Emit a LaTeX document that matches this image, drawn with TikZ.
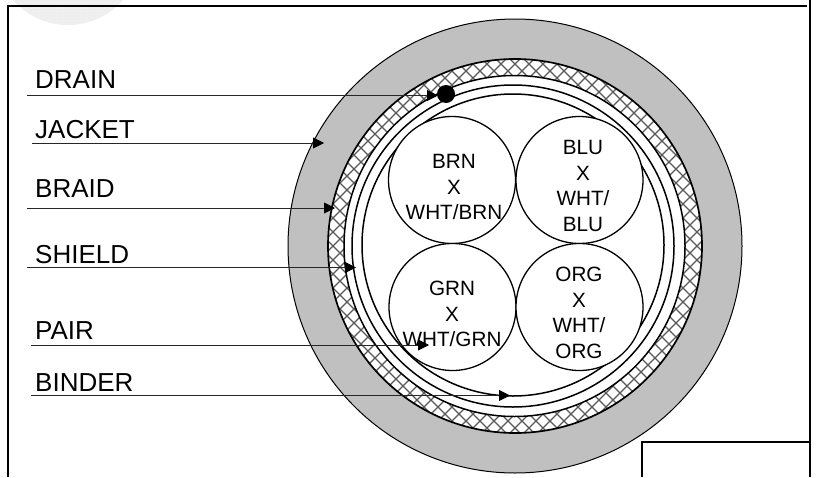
\documentclass[tikz,border=0pt]{standalone}
\usepackage{fontspec}
\setmainfont{Liberation Sans}
\usetikzlibrary{arrows.meta,patterns}
\definecolor{jacketgrey}{RGB}{192,192,192}
\definecolor{faintgrey}{RGB}{238,238,238}
\tikzset{
  x=1pt,y=-1pt,
  framepen/.style={line width=2pt,black},
  ring/.style={draw=black,line width=1.5pt},
  pairwire/.style={circle,draw=black,fill=white,line width=1.3pt,minimum size=127pt,inner sep=0pt},
  bigtext/.style={font=\fontsize{26}{26}\selectfont,anchor=base west,inner sep=0pt},
  pairtext/.style={font=\fontsize{20.7}{25.5}\selectfont,align=center,inner sep=0pt},
  leader/.style={draw=black!85,line width=0.9pt,-{Triangle[length=11pt,width=11pt,color=black]}},
  hatch/.style={draw=black!65,line width=1.1pt},
}
\begin{document}
\begin{tikzpicture}
\useasboundingbox (0,0) rectangle (816,477);
\fill[white] (0,0) rectangle (816,477);
% faint watermark disc at the top left
\begin{scope}
\clip (0,0) rectangle (816,477);
\fill[faintgrey] (68,-48) circle[radius=73];
\fill[pattern=dots,pattern color=white] (68,-48) circle[radius=73];
\end{scope}
% frame
\draw[framepen] (807,6) -- (8,6) -- (8,477);
\draw[framepen] (810,0) -- (810,477);
\draw[framepen] (810,442) -- (642,442) -- (642,477);
% jacket
\fill[jacketgrey] (515,246) circle[radius=227];
\draw[black,line width=1pt] (515,246) circle[radius=227];
% braid
\fill[white] (515,246) circle[radius=187];
\begin{scope}
\clip (515,246) circle[radius=187];
\foreach \k in {-40,...,40}{
  \draw[hatch] (515+\k*14-260,246-260) -- (515+\k*14+260,246+260);
  \draw[hatch] (515+\k*14+260,246-260) -- (515+\k*14-260,246+260);
}
\end{scope}
\fill[white] (514.5,246) circle[radius=170.5];
\draw[ring,line width=1.7pt] (515,246) circle[radius=187];
\draw[ring] (514.5,246) circle[radius=170.5];
\draw[ring] (513,246) circle[radius=161];
\draw[ring] (513,245) circle[radius=151];
% pairs
\node[pairwire] (brn) at (452,180) {};
\node[pairwire] (blu) at (579.5,180) {};
\node[pairwire] (grn) at (452.5,307) {};
\node[pairwire] (org) at (579.5,307) {};
\node[pairtext] (brnt) at (454,187) {BRN\\X\\WHT/BRN};
\node[pairtext] (blut) at (583,186) {BLU\\X\\WHT/\\BLU};
\node[pairtext] (grnt) at (452,314) {GRN\\X\\WHT/GRN};
\node[pairtext] (orgt) at (579,313) {ORG\\X\\WHT/\\ORG};
% drain wire
\node[circle,fill=black,minimum size=18pt,inner sep=0pt] (drain) at (446,94) {};
% labels
\node[bigtext] (ldrain) at (35,88) {DRAIN};
\node[bigtext] (ljacket) at (35,138) {JACKET};
\node[bigtext] (lbraid) at (35,197) {BRAID};
\node[bigtext] (lshield) at (35,263) {SHIELD};
\node[bigtext] (lpair) at (35,339) {PAIR};
\node[bigtext] (lbinder) at (35,391) {BINDER};
% leaders
\coordinate (a1) at (27,95.5); \coordinate (b1) at (438,95.5);
\coordinate (a2) at (32,143); \coordinate (b2) at (324,143);
\coordinate (a3) at (27,208); \coordinate (b3) at (335,208);
\coordinate (a4) at (27,267.5); \coordinate (b4) at (356,267.5);
\coordinate (a5) at (31,345); \coordinate (b5) at (429,345);
\coordinate (a6) at (31,395.5); \coordinate (b6) at (510,395.5);
\draw[leader] (a1) -- (b1);
\draw[leader] (a2) -- (b2);
\draw[leader] (a3) -- (b3);
\draw[leader] (a4) -- (b4);
\draw[leader] (a5) -- (b5);
\draw[leader] (a6) -- (b6);
\end{tikzpicture}
\end{document}
